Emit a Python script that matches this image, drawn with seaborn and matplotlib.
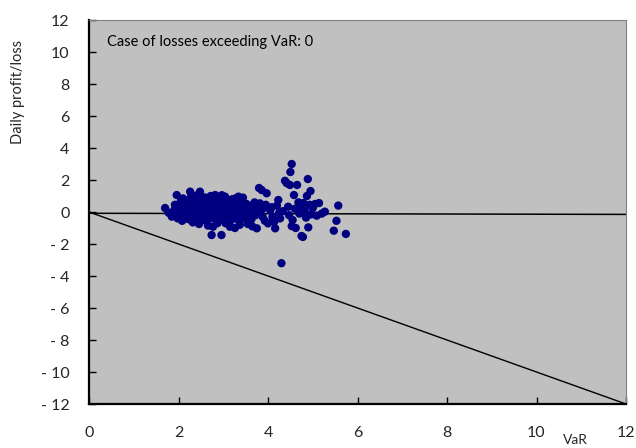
import matplotlib
matplotlib.use("Agg")
import matplotlib.pyplot as plt
import seaborn as sns
import pandas as pd

# VaR (x) and daily profit/loss (y)
var_x = [1.70, 1.78, 1.85, 1.90, 1.92, 1.96, 1.98, 2.00, 2.02, 2.05, 2.06, 2.08, 2.10, 2.12, 2.14,
         2.15, 2.18, 2.20, 2.22, 2.24, 2.26, 2.27, 2.28, 2.30, 2.32, 2.33, 2.35, 2.36, 2.38, 2.40,
         2.42, 2.43, 2.45, 2.46, 2.48, 2.50, 2.51, 2.53, 2.55, 2.56, 2.58, 2.60, 2.61, 2.63, 2.65,
         2.66, 2.68, 2.70, 2.71, 2.73, 2.74, 2.76, 2.77, 2.78, 2.80, 2.82, 2.83, 2.85, 2.86, 2.88,
         2.90, 2.91, 2.93, 2.95, 2.96, 2.98, 3.00, 3.02, 3.04, 3.05, 3.07, 3.09, 3.10, 3.12, 3.15,
         3.16, 3.18, 3.20, 3.22, 3.24, 3.26, 3.28, 3.30, 3.32, 3.34, 3.36, 3.38, 3.40, 3.42, 3.45,
         3.47, 3.49, 3.52, 3.55, 3.58, 3.60, 3.63, 3.65, 3.68, 3.70, 3.72, 3.75, 3.78, 3.80, 3.82,
         3.84, 3.86, 3.90, 3.93, 3.97, 4.00, 4.05, 4.10, 4.16, 4.20, 4.23, 4.27, 4.30, 4.33, 4.38,
         4.42, 4.45, 4.47, 4.49, 4.50, 4.53, 4.53, 4.55, 4.58, 4.60, 4.62, 4.65, 4.68, 4.70, 4.72,
         4.75, 4.78, 4.79, 4.82, 4.85, 4.87, 4.89, 4.90, 4.93, 4.95, 4.97, 5.00, 5.05, 5.09, 5.14,
         5.20, 5.27, 5.47, 5.53, 5.57, 5.74,
         2.03, 2.11, 2.19, 2.25, 2.31, 2.37, 2.44, 2.49, 2.54, 2.59, 2.64, 2.69, 2.75, 2.79, 2.84,
         2.89, 2.94, 2.99, 3.03, 3.08, 3.13, 3.19, 3.23, 3.29, 3.35, 3.41, 3.46, 3.51, 3.57, 3.62,
         2.16, 2.29, 2.41, 2.52, 2.62, 2.72, 2.87, 2.97, 3.11, 3.27, 3.37, 3.44, 3.53, 3.67, 3.74,
         3.88, 3.95, 4.08, 4.14, 4.25]
pnl_y = [0.25, -0.05, -0.29, 0.10, 0.45, 1.06, -0.40, 0.30, -0.15, 0.65, 0.05, -0.55, 0.85, 0.40, -0.30,
         0.15, -0.05, 0.60, -0.45, 0.30, 1.27, -0.20, 0.95, 0.10, -0.65, 0.50, -0.10, 0.75, 0.25, -0.35,
         1.05, 0.00, 0.45, -0.75, 1.27, 0.20, -0.25, 0.70, -0.05, 0.35, -0.50, 0.90, 0.10, -0.20, 0.55,
         -0.85, 0.25, -0.40, 0.80, 0.00, -1.44, 0.40, -0.92, -0.15, 0.65, 1.06, 0.15, -0.60, 0.45, -0.25,
         0.95, 0.05, -0.45, 0.30, -1.44, 0.70, -0.10, 0.50, 0.96, -0.70, 0.20, -0.30, 0.60, 0.00, -0.92,
         0.35, -0.50, 0.80, -0.15, 0.25, -1.00, 0.55, -0.35, 0.10, 0.96, -0.60, 0.40, -0.05, 0.70, -0.25,
         0.20, -0.29, 0.50, -0.75, 0.05, 0.35, -0.45, -0.90, 0.15, 0.60, -0.20, -1.02, 0.30, 1.50, 0.54,
         -0.10, 1.37, 0.25, -0.55, 1.17, -0.71, 0.10, -0.30, -1.02, 0.40, 0.75, -0.40, -3.20, 0.05, 1.95,
         1.80, 0.33, -0.20, 1.69, 2.50, 3.00, -0.88, -0.50, 1.06, 0.20, -1.00, 1.69, 0.60, -0.10, 0.35,
         -1.50, -1.56, 0.56, 0.10, -0.35, 1.00, 2.06, -0.96, 0.45, 1.31, -0.15, 0.25, 0.50, -0.23, 0.56,
         -0.10, 0.02, -1.17, -0.55, 0.40, -1.37,
         0.20, -0.10, 0.35, 0.05, -0.30, 0.55, 0.15, -0.40, 0.45, -0.10, 0.30, -0.25, 0.60, 0.10, -0.35,
         0.40, -0.05, 0.20, -0.40, 0.45, 0.15, -0.20, 0.65, 0.05, -0.45, 0.30, 0.55, -0.15, 0.25, 0.00,
         0.70, 0.85, -0.60, 0.95, -0.55, 1.00, -0.70, 1.05, -0.60, 0.85, -0.80, 0.90, -0.50, 0.45, 0.05,
         -0.30, 0.45, 0.30, -0.60, -0.05]

# Reference lines
trend_x = [0, 12]
trend_y = [-0.08, -0.15]
var_line_x = [0, 12]
var_line_y = [0, -12]

tick_vals = [-12, -10, -8, -6, -4, -2, 0, 2, 4, 6, 8, 10, 12]
ytick_labels = ["- 12", "- 10", "- 8", "- 6", "- 4", "- 2", "0", "2", "4", "6", "8", "10", "12"]
xtick_vals = [0, 2, 4, 6, 8, 10, 12]
xtick_labels = ["0", "2", "4", "6", "8", "10", "12"]

sns.set_theme(style="white")
plt.rcParams["font.family"] = ["Lato", "DejaVu Sans"]

fig = plt.figure(figsize=(6.36, 4.48), dpi=100)
ax = fig.add_axes([89 / 636, 1 - 404 / 448, 537 / 636, 384 / 448])
ax.set_facecolor("#C0C0C0")

df = pd.DataFrame({"VaR": var_x, "PnL": pnl_y})
sns.scatterplot(data=df, x="VaR", y="PnL", ax=ax, color="#000080", s=36,
                edgecolor="none", linewidth=0, zorder=3)
sns.lineplot(x=trend_x, y=trend_y, ax=ax, color="black", linewidth=1.1, zorder=2)
sns.lineplot(x=var_line_x, y=var_line_y, ax=ax, color="black", linewidth=1.0, zorder=2)

ax.set_xlim(0, 12)
ax.set_ylim(-12, 12)
ax.set_yticks(tick_vals)
ax.set_yticklabels(ytick_labels)
ax.set_xticks(xtick_vals)
ax.set_xticklabels(xtick_labels)
ax.tick_params(axis="y", direction="in", length=5, width=1, color="black", pad=14,
               labelsize=11.5, left=True)
ax.tick_params(axis="x", direction="in", length=5, width=1, color="black", pad=16,
               labelsize=11.5, bottom=True)
ax.set_xlabel("")
ax.set_ylabel("")

for side in ["left", "bottom"]:
    ax.spines[side].set_color("black")
    ax.spines[side].set_linewidth(1.6)
for side in ["top", "right"]:
    ax.spines[side].set_color("#808080")
    ax.spines[side].set_linewidth(0.8)

ax.text(0.034, 0.943, "Case of losses exceeding VaR: 0", transform=ax.transAxes,
        fontsize=10.5, va="center", ha="left", color="black")

fig.text(18 / 636, 1 - 92 / 448, "Daily profit/loss", rotation=90, fontsize=10.5,
         va="center", ha="center")
fig.text(575 / 636, 1 - 446 / 448, "VaR", fontsize=10, va="bottom", ha="center")

fig.savefig("out.png", dpi=100, facecolor="white")
